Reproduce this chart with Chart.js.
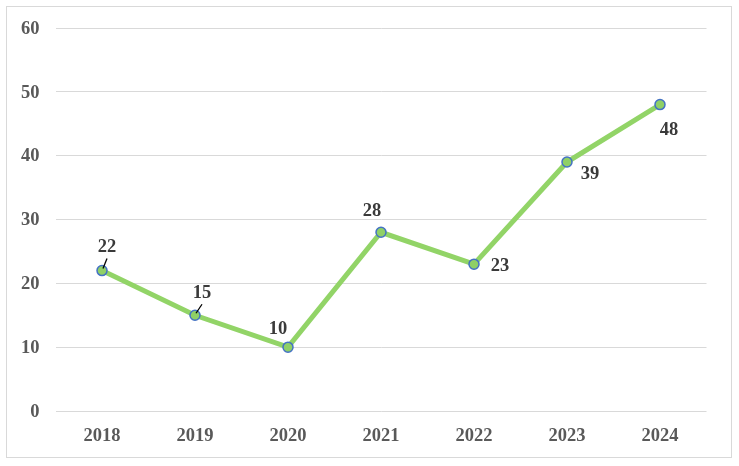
<!DOCTYPE html>
<html>
<head>
<meta charset="utf-8">
<script src="https://cdn.jsdelivr.net/npm/chart.js@4"></script>
<style>
  html, body { margin: 0; padding: 0; background: #fff; }
  #wrap { width: 739px; height: 466px; position: relative; }
</style>
</head>
<body>
<div id="wrap"><canvas id="chart"></canvas></div>
<script>
const years = ["2018", "2019", "2020", "2021", "2022", "2023", "2024"];
const counts = [22, 15, 10, 28, 23, 39, 48];
const yTicks = [0, 10, 20, 30, 40, 50, 60];

// label placement relative to each point (dx, dy), and whether a leader line is drawn
const labelOffsets = [
  { dx: 5, dy: -23, leader: true },
  { dx: 7, dy: -22, leader: true },
  { dx: -10, dy: -18, leader: false },
  { dx: -9, dy: -21, leader: false },
  { dx: 26, dy: 2, leader: false },
  { dx: 23, dy: 12, leader: false },
  { dx: 9, dy: 26, leader: false },
];

const FONT = "'Liberation Serif', 'Times New Roman', serif";

const frame = {
  id: "frame",
  beforeDraw(chart) {
    const ctx = chart.ctx;
    ctx.save();
    ctx.fillStyle = "#ffffff";
    ctx.fillRect(0, 0, chart.width, chart.height);
    ctx.strokeStyle = "#d9d9d9";
    ctx.lineWidth = 1;
    ctx.strokeRect(6.5, 6.5, 725, 451);
    ctx.restore();
  },
};

const pointLabels = {
  id: "pointLabels",
  afterDatasetsDraw(chart) {
    const ctx = chart.ctx;
    const meta = chart.getDatasetMeta(0);
    ctx.save();
    ctx.font = "bold 18.5px " + FONT;
    ctx.fillStyle = "#3a3a3a";
    ctx.textAlign = "center";
    ctx.textBaseline = "middle";
    meta.data.forEach((pt, i) => {
      const o = labelOffsets[i];
      const lx = pt.x + o.dx;
      const ly = pt.y + o.dy;
      ctx.fillText(String(counts[i]), lx, ly);
      if (o.leader) {
        ctx.strokeStyle = "#000";
        ctx.lineWidth = 1.3;
        ctx.beginPath();
        ctx.moveTo(pt.x + 1, pt.y - 2);
        ctx.lineTo(lx, ly + 11);
        ctx.stroke();
      }
    });
    ctx.restore();
  },
};

new Chart(document.getElementById("chart"), {
  type: "line",
  data: {
    labels: years,
    datasets: [
      {
        data: counts,
        borderColor: "#92d467",
        borderWidth: 5,
        backgroundColor: "#92d467",
        pointBackgroundColor: "#8fd066",
        pointBorderColor: "#4472c4",
        pointBorderWidth: 1.5,
        pointRadius: 5,
        tension: 0,
        fill: false,
      },
    ],
  },
  options: {
    responsive: true,
    maintainAspectRatio: false,
    animation: false,
    devicePixelRatio: 1,
    layout: { padding: { left: 0, right: 32.5, top: 28, bottom: 0 } },
    plugins: { legend: { display: false }, tooltip: { enabled: false } },
    scales: {
      x: {
        offset: true,
        grid: { display: false, drawTicks: false },
        border: { display: false },
        ticks: {
          color: "#595959",
          padding: 14,
          font: { family: FONT, size: 18.5, weight: "bold" },
        },
        afterFit(scale) { scale.height = 55; },
      },
      y: {
        min: 0,
        max: 60,
        afterBuildTicks(scale) { scale.ticks = yTicks.map((v) => ({ value: v })); },
        grid: { color: "#d9d9d9", lineWidth: 1, drawTicks: false },
        border: { display: false },
        ticks: {
          color: "#595959",
          padding: 16,
          labelOffset: 1,
          font: { family: FONT, size: 18.5, weight: "bold" },
        },
        afterFit(scale) { scale.width = 55.5; },
      },
    },
  },
  plugins: [frame, pointLabels],
});
</script>
</body>
</html>
